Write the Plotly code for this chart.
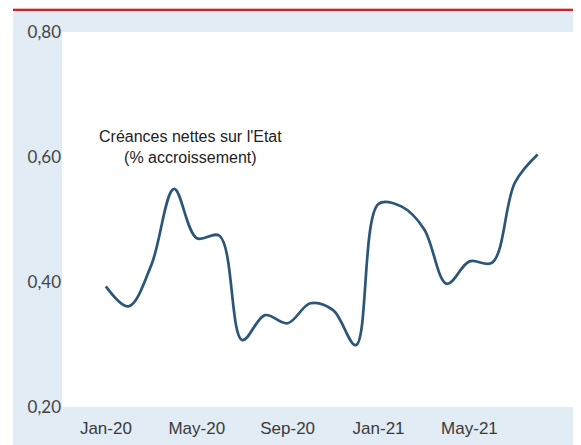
import plotly.graph_objects as go

# monthly growth of net claims on the state, Jan-20 .. Aug-21
months = ["Jan-20", "Feb-20", "Mar-20", "Apr-20", "May-20", "Jun-20", "Jul-20", "Aug-20",
          "Sep-20", "Oct-20", "Nov-20", "Dec-20", "Jan-21", "Feb-21", "Mar-21", "Apr-21",
          "May-21", "Jun-21", "Jul-21", "Aug-21"]
values = [0.393, 0.361, 0.427, 0.549, 0.470, 0.474, 0.307, 0.347,
          0.334, 0.366, 0.355, 0.299, 0.525, 0.521, 0.485, 0.397,
          0.433, 0.431, 0.559, 0.604]
tick_labels = ["Jan-20", "May-20", "Sep-20", "Jan-21", "May-21"]
y_ticks = [0.20, 0.40, 0.60, 0.80]

# the page body has an 8px margin, so the figure sits at (8, 8)
W, H = 573, 437
ML, MR, MT, MB = 54, 7, 24, 36
pw, ph = W - ML - MR, H - MT - MB

def px_x(p):
    return (p - ML) / pw

def px_y(p):
    return (H - MB - p) / ph

idx = list(range(len(months)))
tick_idx = [months.index(t) for t in tick_labels]

fig = go.Figure()
fig.add_trace(go.Scatter(x=idx, y=values, mode="lines",
                         line=dict(color="#2b5677", width=2.7, shape="spline", smoothing=1),
                         hovertext=months, showlegend=False))

fig.add_annotation(x=px_x(182), y=px_y(140), xref="paper", yref="paper",
                   xanchor="center", yanchor="middle",
                   text="Créances nettes sur l'Etat<br>(% accroissement)", showarrow=False,
                   font=dict(family="Liberation Sans, Arial, sans-serif", size=16, color="#222"),
                   align="center")

# white strip on the left, red rule on top
fig.add_shape(type="rect", xref="paper", yref="paper", x0=px_x(-5), x1=px_x(5), y0=px_y(450), y1=px_y(-5),
              fillcolor="white", line_width=0, layer="below")
fig.add_shape(type="rect", xref="paper", yref="paper", x0=px_x(5), x1=px_x(590), y0=px_y(1), y1=px_y(-5),
              fillcolor="#efb9bb", line_width=0, layer="below")
fig.add_shape(type="rect", xref="paper", yref="paper", x0=px_x(5), x1=px_x(590), y0=px_y(3), y1=px_y(1),
              fillcolor="#c9222a", line_width=0, layer="below")

fig.update_layout(
    width=W, height=H,
    margin=dict(l=ML, r=MR, t=MT, b=MB, pad=0),
    paper_bgcolor="#e1ecf5", plot_bgcolor="white",
    separators=",.",
    xaxis=dict(range=[-1.93, 20.6], tickvals=tick_idx, ticktext=tick_labels, showgrid=False,
               zeroline=False, showline=False, ticks="outside", ticklen=6, tickcolor="rgba(0,0,0,0)",
               tickfont=dict(family="Liberation Sans, Arial, sans-serif", size=17, color="#3a3a3a")),
    yaxis=dict(range=[0.2, 0.8], tickvals=y_ticks, tickformat=".2f", showgrid=False,
               zeroline=False, showline=False, ticks="",
               tickfont=dict(family="Lato, Open Sans, sans-serif", size=17, color="#444")),
)

fig.write_html("out.html")
